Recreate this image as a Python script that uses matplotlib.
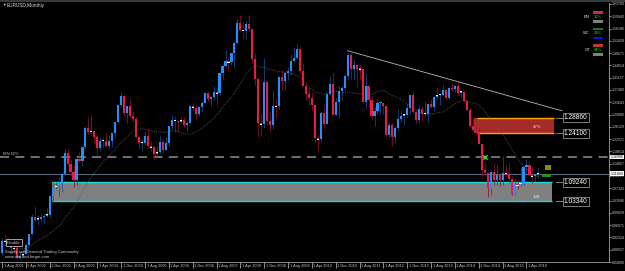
import matplotlib
matplotlib.use("Agg")
import matplotlib.pyplot as plt
import matplotlib.transforms as mtransforms
from matplotlib.patches import Rectangle
import numpy as np
import pandas as pd

plt.rcParams["font.family"] = ["Liberation Sans", "DejaVu Sans"]

# EURUSD monthly, Aug 2001 .. Aug 2016
first_open = 0.8765
closes = [
    0.9115, 0.9110, 0.8997, 0.8920, 0.8895,  # 2001
    0.8605, 0.8667, 0.8718, 0.9010, 0.9333, 0.9857, 0.9769, 0.9800, 0.9870, 0.9885, 0.9931, 1.0487,  # 2002
    1.0770, 1.0790, 1.0903, 1.1173, 1.1805, 1.1490, 1.1245, 1.0985, 1.1645, 1.1560, 1.1992, 1.2590,  # 2003
    1.2450, 1.2480, 1.2300, 1.1975, 1.2195, 1.2185, 1.2020, 1.2175, 1.2420, 1.2760, 1.3275, 1.3560,  # 2004
    1.3035, 1.3255, 1.2960, 1.2865, 1.2305, 1.2105, 1.2125, 1.2325, 1.2025, 1.1990, 1.1790, 1.1840,  # 2005
    1.2160, 1.1915, 1.2115, 1.2625, 1.2835, 1.2795, 1.2760, 1.2810, 1.2670, 1.2745, 1.3240, 1.3200,  # 2006
    1.3005, 1.3230, 1.3355, 1.3650, 1.3455, 1.3535, 1.3690, 1.3635, 1.4260, 1.4480, 1.4630, 1.4590,  # 2007
    1.4860, 1.5180, 1.5790, 1.5590, 1.5550, 1.5750, 1.5605, 1.4675, 1.4080, 1.2730, 1.2695, 1.3970,  # 2008
    1.2800, 1.2665, 1.3250, 1.3240, 1.4150, 1.4030, 1.4255, 1.4330, 1.4635, 1.4720, 1.5000, 1.4320,  # 2009
    1.3865, 1.3625, 1.3510, 1.3295, 1.2270, 1.2235, 1.3050, 1.2685, 1.3630, 1.3930, 1.2985, 1.3380,  # 2010
    1.3700, 1.3805, 1.4160, 1.4805, 1.4395, 1.4500, 1.4390, 1.4375, 1.3385, 1.3865, 1.3445, 1.2960,  # 2011
    1.3085, 1.3335, 1.3345, 1.3240, 1.2365, 1.2665, 1.2300, 1.2575, 1.2860, 1.2955, 1.2985, 1.3190,  # 2012
    1.3580, 1.3060, 1.2820, 1.3165, 1.3000, 1.3010, 1.3300, 1.3225, 1.3525, 1.3580, 1.3590, 1.3745,  # 2013
    1.3485, 1.3805, 1.3770, 1.3870, 1.3635, 1.3690, 1.3390, 1.3130, 1.2630, 1.2525, 1.2450, 1.2100,  # 2014
    1.1290, 1.1195, 1.0730, 1.1220, 1.0990, 1.1145, 1.0985, 1.1210, 1.1175, 1.1005, 1.0565, 1.0860,  # 2015
    1.0830, 1.0875, 1.1380, 1.1450, 1.1130, 1.1105, 1.1175, 1.1180,  # 2016
]
highs = [
    0.9200, 0.9336, 0.9235, 0.9110, 0.9052,
    0.8950, 0.8785, 0.8834, 0.9075, 0.9345, 0.9960, 1.0190, 0.9915, 0.9938, 0.9935, 1.0140, 1.0500,
    1.0930, 1.0940, 1.1080, 1.1225, 1.1935, 1.1930, 1.1625, 1.1440, 1.1665, 1.1840, 1.2010, 1.2648,
    1.2900, 1.2930, 1.2495, 1.2390, 1.2290, 1.2310, 1.2430, 1.2350, 1.2430, 1.2800, 1.3310, 1.3667,
    1.3585, 1.3295, 1.3480, 1.3105, 1.2955, 1.2320, 1.2250, 1.2485, 1.2590, 1.2180, 1.2030, 1.2040,
    1.2320, 1.2170, 1.2290, 1.2630, 1.2980, 1.2950, 1.2825, 1.2915, 1.2920, 1.2795, 1.3280, 1.3365,
    1.3290, 1.3250, 1.3395, 1.3685, 1.3685, 1.3545, 1.3850, 1.3825, 1.4280, 1.4530, 1.4965, 1.4760,
    1.4880, 1.5240, 1.5905, 1.6020, 1.5815, 1.5845, 1.6038, 1.5620, 1.4865, 1.4150, 1.3000, 1.4720,
    1.4000, 1.3075, 1.3740, 1.3500, 1.4180, 1.4340, 1.4300, 1.4450, 1.4845, 1.5065, 1.5145, 1.5090,
    1.4580, 1.3990, 1.3820, 1.3690, 1.3325, 1.2405, 1.3110, 1.3335, 1.3650, 1.4160, 1.4280, 1.3500,
    1.3860, 1.3860, 1.4250, 1.4880, 1.4940, 1.4700, 1.4535, 1.4550, 1.4390, 1.4245, 1.3875, 1.3550,
    1.3235, 1.3485, 1.3385, 1.3285, 1.3285, 1.2750, 1.2745, 1.2640, 1.3170, 1.3140, 1.3030, 1.3310,
    1.3585, 1.3710, 1.3160, 1.3240, 1.3245, 1.3415, 1.3345, 1.3450, 1.3570, 1.3830, 1.3620, 1.3895,
    1.3775, 1.3825, 1.3965, 1.3905, 1.3995, 1.3700, 1.3700, 1.3445, 1.3220, 1.2890, 1.2600, 1.2570,
    1.2100, 1.1535, 1.1240, 1.1290, 1.1465, 1.1435, 1.1215, 1.1715, 1.1460, 1.1495, 1.1095, 1.1060,
    1.0985, 1.1375, 1.1405, 1.1615, 1.1570, 1.1430, 1.1185, 1.1365,
]
lows = [
    0.8700, 0.8975, 0.8960, 0.8748, 0.8750,
    0.8578, 0.8565, 0.8660, 0.8730, 0.8995, 0.9330, 0.9700, 0.9605, 0.9698, 0.9686, 0.9865, 0.9858,
    1.0355, 1.0705, 1.0500, 1.0625, 1.1145, 1.1410, 1.1100, 1.0765, 1.0820, 1.1505, 1.1410, 1.1935,
    1.2395, 1.2360, 1.2080, 1.1760, 1.1900, 1.1960, 1.2005, 1.1950, 1.2010, 1.2270, 1.2725, 1.3220,
    1.2950, 1.2730, 1.2875, 1.2775, 1.2300, 1.1950, 1.1870, 1.2060, 1.2000, 1.1870, 1.1640, 1.1710,
    1.1800, 1.1825, 1.1910, 1.2030, 1.2560, 1.2460, 1.2455, 1.2720, 1.2640, 1.2480, 1.2735, 1.3100,
    1.2865, 1.2930, 1.3070, 1.3330, 1.3405, 1.3265, 1.3440, 1.3260, 1.3585, 1.4075, 1.4435, 1.4310,
    1.4505, 1.4440, 1.5150, 1.5510, 1.5285, 1.5300, 1.5510, 1.4580, 1.3880, 1.2330, 1.2330, 1.2575,
    1.2660, 1.2450, 1.2540, 1.2885, 1.3170, 1.3745, 1.3750, 1.4050, 1.4210, 1.4600, 1.4700, 1.4220,
    1.3860, 1.3430, 1.3270, 1.3110, 1.2140, 1.1875, 1.2150, 1.2590, 1.2690, 1.3600, 1.2970, 1.2970,
    1.2870, 1.3430, 1.3750, 1.4090, 1.4055, 1.4075, 1.3835, 1.4050, 1.3360, 1.3145, 1.3210, 1.2860,
    1.2625, 1.3020, 1.3000, 1.3000, 1.2330, 1.2290, 1.2040, 1.2130, 1.2510, 1.2800, 1.2660, 1.2920,
    1.3000, 1.3040, 1.2745, 1.2745, 1.2795, 1.2955, 1.2755, 1.3190, 1.3105, 1.3480, 1.3295, 1.3545,
    1.3480, 1.3475, 1.3705, 1.3670, 1.3590, 1.3500, 1.3365, 1.3105, 1.2570, 1.2500, 1.2355, 1.2090,
    1.1100, 1.1100, 1.0460, 1.0520, 1.0820, 1.0820, 1.0810, 1.0850, 1.1085, 1.0895, 1.0525, 1.0520,
    1.0710, 1.0810, 1.0820, 1.1215, 1.1100, 1.0910, 1.0950, 1.1045,
]

# zones / objects on the chart
supply_zone = (1.2410, 1.2886)   # red
demand_zone = (1.0334, 1.0924)   # grey
supply_pct = "47%"
demand_pct = "100"
mn50_level = 1.1690
trend_pts_i = [116, 153]
trend_pts_p = [1.4940, 1.3995]
cross_i, cross_p = 162, 1.1690
y_min, y_max = 0.8480, 1.6370

# legend (top right)
legend_names = ["BN", "WC", "DT"]
legend_pcts = ["15%", "28%", "24%"]
legend_top = ["#c83232", "#1a7a1a", "#c83232"]
legend_bot = ["#808080", "#1010e0", "#808080"]

W, H = 625, 271
opens = [first_open] + closes[:-1]
n = len(closes)
idx = np.arange(n)
dates = pd.date_range("2001-08-01", periods=n, freq="MS")

fig = plt.figure(figsize=(W / 100, H / 100), dpi=100, facecolor="black")
ax = fig.add_axes([0, 9 / H, 609 / W, 259 / H], facecolor="black")

px_per_month = 2.98
x_lo = -2 / px_per_month
x_hi = (609 - 2) / px_per_month
ax.set_xlim(x_lo, x_hi)
ax.set_ylim(y_min, y_max + 1 / 327)

# zones
gx0, gx1 = (52 - 2) / px_per_month, (552 - 2) / px_per_month
ax.add_patch(Rectangle((gx0, demand_zone[0]), gx1 - gx0, demand_zone[1] - demand_zone[0],
                       facecolor="#808080", edgecolor="none", zorder=1))
ax.hlines(demand_zone, gx0, gx1, color="#20d8e0", lw=1.0, zorder=2)
rx0, rx1 = (474 - 2) / px_per_month, (554 - 2) / px_per_month
ax.add_patch(Rectangle((rx0, supply_zone[0]), rx1 - rx0, supply_zone[1] - supply_zone[0],
                       facecolor="#a52a2a", edgecolor="none", zorder=1))
ax.hlines(supply_zone, rx0 + 1, rx1, color="#ffa500", lw=1.0, zorder=2)
ax.text(rx1 - 4, sum(supply_zone) / 2 - 0.004, supply_pct, color="#dddddd", fontsize=3.2, ha="right", va="center", zorder=3)
ax.text(gx1 - 4, demand_zone[0] + 0.012, demand_pct, color="#eeeeee", fontsize=3.2, ha="right", va="center", zorder=3)

# price labels of zones
lab_x = (563 - 2) / px_per_month
for lvl in list(supply_zone) + list(demand_zone):
    ax.plot([lab_x - 2.5, lab_x], [lvl, lvl], color="#bbbbbb", lw=0.5, zorder=3)
    ax.text(lab_x + 0.3, lvl, f"{lvl:.5f}", color="white", fontsize=4.8, va="center", ha="left", zorder=4,
            bbox=dict(boxstyle="square,pad=0.15", fc="black", ec="#aaaaaa", lw=0.5))

# MN 50% dashed line and current price line
ax.axhline(mn50_level, color="#7a7a7a", lw=1.3, dashes=(5, 3.5), zorder=1.5)
ax.text(0.5, mn50_level + 0.004, "MN 50%", color="#bbbbbb", fontsize=3.0, va="bottom", ha="left")
ax.axhline(closes[-1], color="#5a6478", lw=0.8, zorder=1.5)

# moving average (dotted)
ma = pd.Series(closes).rolling(20, min_periods=1).mean()
ax.plot(idx, ma, color="#5e5e5e", lw=0.6, ls=(0, (1, 1.2)), zorder=2)

# trend line
slope = (trend_pts_p[1] - trend_pts_p[0]) / (trend_pts_i[1] - trend_pts_i[0])
tx = np.array([trend_pts_i[0], (562 - 2) / px_per_month])
ax.plot(tx, trend_pts_p[0] + slope * (tx - trend_pts_i[0]), color="#b8b8b8", lw=0.6, zorder=2)

# candles
o = np.array(opens)
c = np.array(closes)
bull = c >= o
wick_col = np.where(bull, "#1a4c8c", "#8c1030")
body_col = np.where(bull, "#1e90ff", "#f0174a")
ax.vlines(idx, lows, highs, colors=wick_col, lw=0.55, zorder=3)
bottoms = np.minimum(o, c)
heights = np.maximum(np.abs(c - o), 0.0025)
ax.bar(idx, heights, bottom=bottoms, width=0.7, color=body_col, edgecolor="none", zorder=4)
doji = np.abs(c - o) < 0.006
ax.bar(idx[doji], 0.0025, bottom=c[doji] - 0.00125, width=0.7, color="white", edgecolor="none", zorder=5)

ax.scatter([cross_i], [cross_p], marker="x", s=10, color="#30e030", lw=1.0, zorder=6)

# axes styling
for s in ["left", "top"]:
    ax.spines[s].set_visible(False)
for s in ["right", "bottom"]:
    ax.spines[s].set_color("#a0a0a0")
    ax.spines[s].set_linewidth(0.6)
ax.yaxis.tick_right()
yt = np.linspace(y_min, y_max, 22)
ax.set_yticks(yt)
ax.set_yticklabels([f"{v:.5f}" for v in yt])
ax.tick_params(axis="y", colors="#c8c8c8", labelsize=2.6, length=1.5, width=0.5, pad=0.5)
xt = idx[::8]
ax.set_xticks(xt)
ax.set_xticklabels([f"1 {d:%b %Y}" for d in dates[::8]], ha="left")
ax.tick_params(axis="x", colors="#c8c8c8", labelsize=2.8, length=4, width=0.5, pad=-2.6)
for lbl in ax.get_xticklabels():
    lbl.set_transform(lbl.get_transform() + mtransforms.ScaledTranslation(1.5 / 100, 0, fig.dpi_scale_trans))

# highlighted price labels on axis
bt = mtransforms.blended_transform_factory(ax.transAxes, ax.transData)
for lvl in [mn50_level, closes[-1]]:
    ax.text(1.003, lvl, f"{lvl:.5f}", transform=bt, color="black", fontsize=2.6, va="center", ha="left",
            bbox=dict(boxstyle="square,pad=0.1", fc="white", ec="none"), clip_on=False, zorder=10)

# figure-level decorations in pixel coords
def fx(x):
    return x / W

def fy(y):
    return 1 - y / H

fig.add_artist(Rectangle((0, fy(2)), 1, 2 / H, transform=fig.transFigure, fc="#3a3a3a", ec="none"))
fig.text(fx(2), fy(5), "\u25bc", color="#dddddd", fontsize=2.6, va="center", ha="left")
fig.text(fx(7), fy(5), "EURUSD,Monthly", color="#dddddd", fontsize=3.4, va="center", ha="left")

for k in range(3):
    y0 = 11 + k * 16.5
    fig.add_artist(Rectangle((fx(593), fy(y0 + 2.5)), 10 / W, 2.5 / H, transform=fig.transFigure, fc=legend_top[k], ec="none"))
    fig.add_artist(Rectangle((fx(593), fy(y0 + 11.5)), 10 / W, 2.5 / H, transform=fig.transFigure, fc=legend_bot[k], ec="none"))
    fig.text(fx(590), fy(y0 + 6), legend_names[k], color="#dddddd", fontsize=3.0, va="center", ha="right")
    fig.text(fx(594), fy(y0 + 6), legend_pcts[k], color="#22ee22", fontsize=3.0, va="center", ha="left")

fig.add_artist(Rectangle((fx(545), fy(170)), 6 / W, 5 / H, transform=fig.transFigure, fc="#8b8b10", ec="none"))
fig.add_artist(Rectangle((fx(542), fy(177)), 9 / W, 3 / H, transform=fig.transFigure, fc="#2e8b2e", ec="none"))

fig.text(fx(7), fy(242.5), "Double", color="#cccccc", fontsize=3.2, va="center", ha="left",
         bbox=dict(boxstyle="square,pad=0.25", fc="black", ec="#dddddd", lw=0.5))
fig.text(fx(5), fy(251.5), "Supply and Demand Trading Community", color="#cccccc", fontsize=3.0, va="center", ha="left")
fig.text(fx(5), fy(257), "www.set-and-forget.com", color="#cccccc", fontsize=3.0, va="center", ha="left")

fig.savefig("out.png", dpi=100, facecolor="black")
